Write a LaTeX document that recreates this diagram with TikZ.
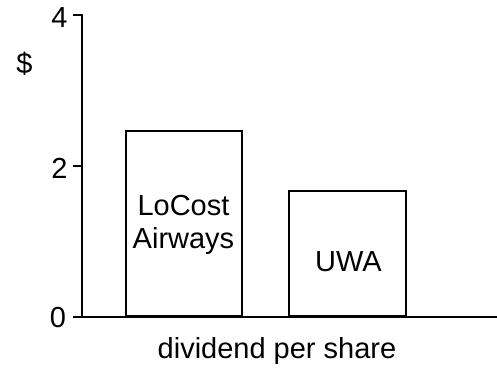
\documentclass[tikz,border=0pt]{standalone}
\usepackage{fontspec}
\setmainfont{Liberation Sans}
\begin{document}
\begin{tikzpicture}[x=1pt,y=-1pt,
  barbox/.style={draw, line width=1.8pt, inner sep=0pt, anchor=south west},
  lbl/.style={font=\fontsize{29}{34}\selectfont, inner sep=0pt, anchor=base}]
\useasboundingbox (0,0) rectangle (497,369);
% axes
\coordinate (top) at (82,15);
\coordinate (origin) at (82,317);
\coordinate (xend) at (497,317);
\coordinate (t4) at (73,15);
\coordinate (t2a) at (73,166);
\coordinate (t2b) at (82,166);
\coordinate (t0) at (73,317);
\draw[line width=1.8pt] (t4) -- (top) -- (origin) -- (xend);
\draw[line width=1.8pt] (t2a) -- (t2b);
\draw[line width=1.8pt] (t0) -- (origin);
% bars
\node[barbox, minimum width=116, minimum height=185] (b1) at (125,317) {};
\node[barbox, minimum width=117, minimum height=125] (b2) at (288,317) {};
% labels
\node[lbl] (l4) at (59.5,28) {4};
\node[lbl] (l2) at (59.5,178) {2};
\node[lbl] (l0) at (58,327) {0};
\node[lbl] (dol) at (24.5,73) {\$};
\node[lbl] (loc1) at (183.5,215) {LoCost};
\node[lbl] (loc2) at (183.5,248) {Airways};
\node[lbl] (uwa) at (348.5,271.5) {UWA};
\node[lbl] (xl) at (277,358) {dividend per share};
\end{tikzpicture}
\end{document}
